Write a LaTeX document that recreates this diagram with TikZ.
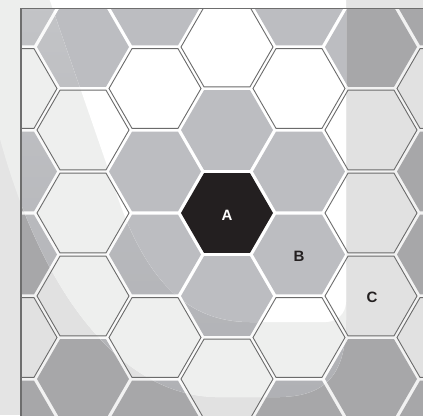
\documentclass[tikz,border=0pt]{standalone}
\usepackage{fontspec}
\setmainfont{Liberation Sans}
\definecolor{bgZero}{HTML}{E4E4E4}
\definecolor{bgTwo}{HTML}{EDEEED}
\definecolor{gapZero}{HTML}{F2F2F2}
\definecolor{gapTwo}{HTML}{FAFAFA}
\definecolor{gZero}{HTML}{A7A7A9}
\definecolor{lZero}{HTML}{E1E1E1}
\definecolor{lTwo}{HTML}{EEEFEE}
\definecolor{gTwoTop}{HTML}{C3C4C7}
\definecolor{gTwoBot}{HTML}{AFB0B4}
\definecolor{gOne}{HTML}{BCBDC1}
\definecolor{hexline}{HTML}{6B6B6B}
\definecolor{ablack}{HTML}{231F20}
\definecolor{frameline}{HTML}{6E6E6E}
\newcommand{\hx}[2]{(#1+46,#2) -- (#1+23,#2+39.84) -- (#1-23,#2+39.84) -- (#1-46,#2) -- (#1-23,#2-39.84) -- (#1+23,#2-39.84) -- cycle}
\newcommand{\Glist}{227/130,299/171.5,299/254.5,227/296,155/254.5,155/171.5,299/5.5,371/47,443/171.5,443/254.5,371/379,299/420.5,155/420.5,83/379,11/254.5,11/171.5,83/47,155/5.5,11/5.5,11/420.5,443/5.5,443/420.5}
\newcommand{\Llist}{227/47,299/88.5,371/130,371/213,371/296,299/337.5,227/379,155/337.5,83/296,83/213,83/130,155/88.5,443/88.5,443/337.5,11/337.5,11/88.5}
\newcommand{\Rone}{(48,-5) -- (112,180) .. controls (140,270) and (180,322) .. (250,322) -- (326,322) .. controls (337,322) and (346,313) .. (346,302) -- (346,-5) -- cycle}
\newcommand{\Rtwo}{(-5,-5) -- (346,-5) -- (346,320) .. controls (346,370) and (330,396) .. (280,397) -- (215,397) .. controls (125,395) and (40,300) .. (-5,120) -- cycle}
\begin{document}
\begin{tikzpicture}[x=1pt,y=-1pt,
  lab/.style={anchor=base,inner sep=0pt,font=\bfseries\fontsize{15}{15}\selectfont},
  hexout/.style={draw=hexline,line width=0.9pt}]
\useasboundingbox (0,0) rectangle (423,415);
\fill[bgZero] (0,0) rectangle (423,415);
\fill[bgTwo] \Rtwo;
\fill[white] \Rone;
\begin{scope}
  \clip (21,8.3) rectangle (424,416);
  % base region
  \fill[gapZero] (21,8) rectangle (424,416);
  \foreach \cx/\cy in \Glist { \fill[gZero] \hx{\cx}{\cy}; }
  \foreach \cx/\cy in \Llist { \fill[lZero] \hx{\cx}{\cy}; }
  % middle glossy region
  \begin{scope}
    \clip \Rtwo;
    \fill[gapTwo] (0,0) rectangle (424,416);
    \foreach \cx/\cy in \Llist { \fill[lTwo] \hx{\cx}{\cy}; }
    \begin{scope}
      \clip foreach \cx/\cy in \Glist { \hx{\cx}{\cy} };
      \shade[top color=gTwoTop,bottom color=gTwoBot] (0,0) rectangle (424,416);
    \end{scope}
  \end{scope}
  % brightest glossy region
  \begin{scope}
    \clip \Rone;
    \fill[white] (0,0) rectangle (424,416);
    \foreach \cx/\cy in \Glist { \fill[gOne] \hx{\cx}{\cy}; }
  \end{scope}
  \foreach \cx/\cy in \Llist { \draw[hexout] \hx{\cx}{\cy}; }
  \fill[ablack] \hx{227}{213};
\end{scope}
\draw[frameline,line width=1.1pt] (21,416) -- (21,8.3) -- (424,8.3);
\node[lab,text=white] (la) at (227,220) {A};
\node[lab,text=ablack] (lb) at (299,261) {B};
\node[lab,text=ablack] (lc) at (372,302.7) {C};
\end{tikzpicture}
\end{document}
